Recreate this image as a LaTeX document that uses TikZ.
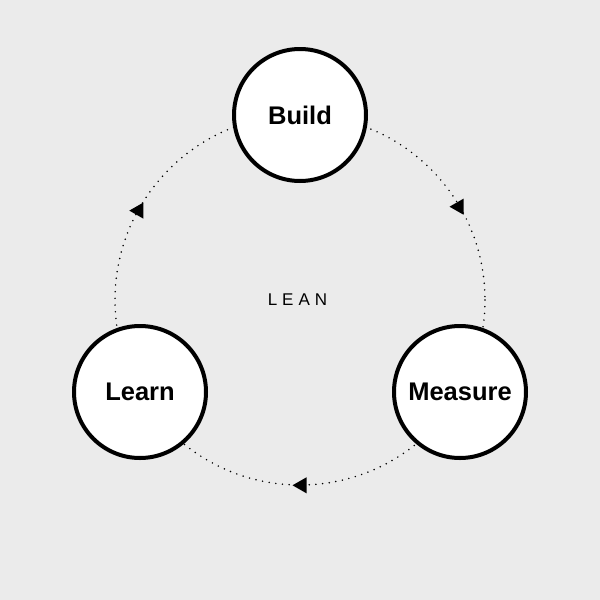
\documentclass[tikz,border=0pt]{standalone}
\usepackage{fontspec}
\setmainfont{Liberation Sans}
\definecolor{bgcol}{HTML}{EBEBEB}
\tikzset{
  stage/.style={circle, draw=black, line width=4pt, fill=white, minimum size=132pt, inner sep=0pt,
    font=\fontsize{25.5}{30}\selectfont\bfseries, text=black},
  dotline/.style={draw=black, line width=1.7pt, line cap=round, dash pattern=on 0pt off 6.7pt},
  arrowtri/.style={fill=black},
  centerlabel/.style={font=\fontsize{17}{20}\selectfont, text=black, inner sep=0pt}
}
\begin{document}
\begin{tikzpicture}[x=1pt,y=-1pt]
\fill[bgcol] (0,0) rectangle (600,600);
\useasboundingbox (0,0) rectangle (600,600);
\coordinate (ctr) at (300,300);
\draw[dotline] (ctr) circle[radius=185];
\node[stage] (build) at (300,115) {Build};
\node[stage] (measure) at (460,392) {Measure};
\node[stage] (learn) at (140,392) {Learn};
\node[centerlabel] (lean) at (297.5,300) {L\hspace{5pt}E\hspace{5pt}A\hspace{5pt}N};
\coordinate (arL) at (136.3,210.6);
\coordinate (arR) at (456.5,206.7);
\coordinate (arB) at (299.5,485.3);
\foreach \p in {arL,arR,arB}{
  \fill[arrowtri] (\p) ++(-7,0) -- ++(14,-8) -- ++(0,16) -- cycle;
}
\end{tikzpicture}
\end{document}
